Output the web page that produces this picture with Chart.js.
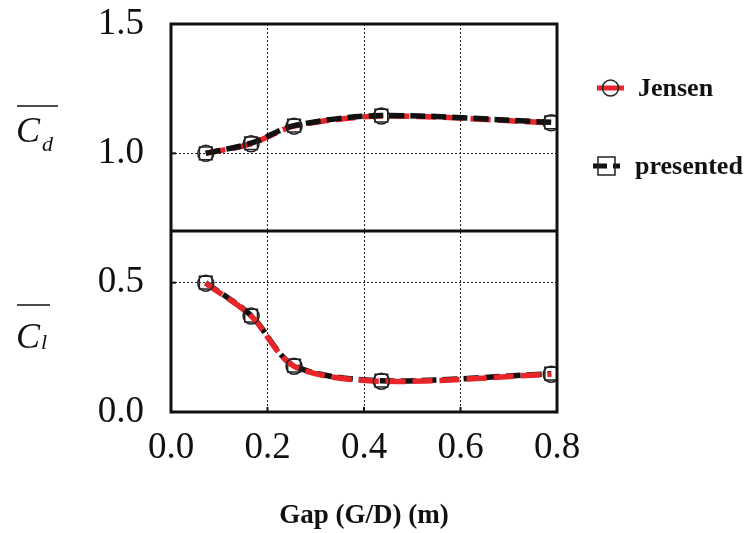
<!DOCTYPE html>
<html>
<head>
<meta charset="utf-8">
<script src="https://cdn.jsdelivr.net/npm/chart.js@4"></script>
<style>
  html, body { margin: 0; padding: 0; background: #fff; }
  #wrap { width: 747px; height: 533px; }
</style>
</head>
<body>
<div id="wrap"><canvas id="gap" width="747" height="533"></canvas></div>
<script>
const gap = [0.072, 0.166, 0.255, 0.436, 0.788];
const jensenCd = [1.0, 1.037, 1.105, 1.144, 1.118];
const presentedCd = [1.0, 1.039, 1.107, 1.146, 1.12];
const jensenCl = [0.498, 0.371, 0.177, 0.119, 0.146];
const presentedCl = [0.5, 0.373, 0.179, 0.121, 0.148];
const xTicks = [0, 0.2, 0.4, 0.6, 0.8];
const yTicks = [0, 0.5, 1.0, 1.5];
const split = 0.7;

const serif = '"Liberation Serif", "Times New Roman", serif';
const red = '#e8262a';

function points(ys) {
  return gap.map((x, i) => ({ x: x, y: ys[i] }));
}

function series(label, ys, kind, order) {
  const jensen = kind === 'jensen';
  return {
    label: label,
    data: points(ys),
    showLine: true,
    borderColor: jensen ? red : '#111',
    borderWidth: 5.5,
    borderDash: jensen ? [20, 7] : [15, 6],
    tension: 0.3,
    pointStyle: jensen ? 'circle' : 'rect',
    pointRadius: jensen ? 8 : 9,
    pointBorderColor: '#222',
    pointBorderWidth: 1.5,
    pointBackgroundColor: 'rgba(255,255,255,0)',
    order: order,
  };
}

// frame, split line, inward ticks, axis symbols and legend
const decorations = {
  id: 'decorations',
  afterDatasetsDraw(chart) {
    const { ctx, chartArea: a, scales } = chart;
    ctx.save();
    ctx.strokeStyle = '#111';
    ctx.lineWidth = 3;
    ctx.strokeRect(a.left, a.top, a.right - a.left, a.bottom - a.top);
    const ys = scales.y.getPixelForValue(split);
    ctx.beginPath();
    ctx.moveTo(a.left, ys);
    ctx.lineTo(a.right, ys);
    ctx.stroke();

    ctx.lineWidth = 2;
    yTicks.slice(1, -1).forEach((v) => {
      const p = scales.y.getPixelForValue(v);
      ctx.beginPath();
      ctx.moveTo(a.left, p);
      ctx.lineTo(a.left + 5, p);
      ctx.stroke();
    });
    xTicks.slice(1, -1).forEach((v) => {
      const p = scales.x.getPixelForValue(v);
      ctx.beginPath();
      ctx.moveTo(p, a.bottom);
      ctx.lineTo(p, a.bottom - 5);
      ctx.stroke();
    });

    // C_d and C_l symbols with overbars
    ctx.fillStyle = '#111';
    ctx.textBaseline = 'alphabetic';
    ctx.textAlign = 'left';
    ctx.font = 'italic 36px ' + serif;
    ctx.fillText('C', 16, 142);
    ctx.fillText('C', 16, 348);
    ctx.font = 'italic 22px ' + serif;
    ctx.fillText('d', 42, 151);
    ctx.fillText('l', 41, 349);
    ctx.lineWidth = 1.5;
    ctx.beginPath();
    ctx.moveTo(17, 106);
    ctx.lineTo(58, 106);
    ctx.moveTo(17, 305);
    ctx.lineTo(50, 305);
    ctx.stroke();

    // legend
    ctx.strokeStyle = red;
    ctx.lineWidth = 5;
    ctx.beginPath();
    ctx.moveTo(597, 88);
    ctx.lineTo(624, 88);
    ctx.stroke();
    ctx.strokeStyle = '#222';
    ctx.lineWidth = 1.5;
    ctx.beginPath();
    ctx.arc(610.5, 88, 8, 0, Math.PI * 2);
    ctx.stroke();

    ctx.strokeStyle = '#111';
    ctx.lineWidth = 5;
    ctx.beginPath();
    ctx.moveTo(593, 166);
    ctx.lineTo(607, 166);
    ctx.moveTo(613, 166);
    ctx.lineTo(620, 166);
    ctx.stroke();
    ctx.strokeStyle = '#222';
    ctx.lineWidth = 1.5;
    ctx.strokeRect(598, 157, 17, 18);

    ctx.fillStyle = '#111';
    ctx.font = 'bold 26px ' + serif;
    ctx.textBaseline = 'middle';
    ctx.fillText(chart.data.datasets[0].label, 638, 89);
    ctx.fillText(chart.data.datasets[1].label, 635, 167);
    ctx.restore();
  },
};

// dotted lines only inside the frame
const inner = (ctx) => {
  const n = ctx.scale.ticks.length;
  return ctx.index === 0 || ctx.index === n - 1 ? 'rgba(0,0,0,0)' : '#222';
};

new Chart(document.getElementById('gap'), {
  type: 'scatter',
  data: {
    datasets: [
      series('Jensen', jensenCd, 'jensen', 2),
      series('presented', presentedCd, 'presented', 1),
      series('Jensen', jensenCl, 'jensen', 1),
      series('presented', presentedCl, 'presented', 2),
    ],
  },
  options: {
    responsive: false,
    animation: false,
    layout: { padding: { top: 24, right: 190, left: 0, bottom: 0 } },
    plugins: { legend: { display: false }, tooltip: { enabled: false } },
    scales: {
      x: {
        type: 'linear',
        min: 0,
        max: 0.8,
        afterFit(scale) {
          scale.height = 121;
          scale.paddingLeft = 0;
          scale.paddingRight = 0;
        },
        afterBuildTicks(scale) { scale.ticks = xTicks.map((v) => ({ value: v })); },
        border: { display: false, dash: [2, 2] },
        grid: { color: inner, lineWidth: 1, drawTicks: false },
        ticks: {
          padding: 14,
          color: '#111',
          font: { family: serif, size: 37 },
          callback: (v) => v.toFixed(1),
        },
        title: {
          display: true,
          text: 'Gap (G/D) (m)',
          color: '#111',
          font: { family: serif, size: 27, weight: 'bold' },
          padding: { top: 0, bottom: 1 },
        },
      },
      y: {
        type: 'linear',
        min: 0,
        max: 1.5,
        afterFit(scale) {
          scale.width = 171;
          scale.paddingTop = 0;
          scale.paddingBottom = 0;
        },
        afterBuildTicks(scale) { scale.ticks = yTicks.map((v) => ({ value: v })); },
        border: { display: false, dash: [2, 2] },
        grid: { color: inner, lineWidth: 1, drawTicks: false },
        ticks: {
          padding: 27,
          color: '#111',
          font: { family: serif, size: 37 },
          callback: (v) => v.toFixed(1),
        },
      },
    },
  },
  plugins: [decorations],
});
</script>
</body>
</html>
